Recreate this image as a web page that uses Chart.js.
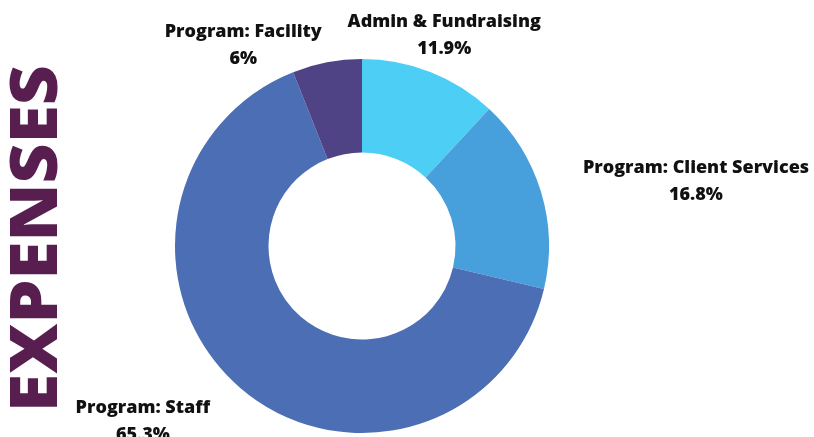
<!DOCTYPE html>
<html>
<head>
<meta charset="utf-8">
<script src="https://cdn.jsdelivr.net/npm/chart.js@4"></script>
<style>
  html, body { margin: 0; padding: 0; background: #fff; }
  #wrap { position: relative; width: 814px; height: 437px; }
</style>
</head>
<body>
<div id="wrap"><canvas id="expenses-chart" width="814" height="437"></canvas></div>
<script>
// Expenses breakdown (percent of total)
const categories = ["Admin & Fundraising", "Program: Client Services", "Program: Staff", "Program: Facility"];
const shares = [11.9, 16.8, 65.3, 6];
const shareLabels = ["11.9%", "16.8%", "65.3%", "6%"];
const sliceColors = ["#4DCEF5", "#47A0DC", "#4C6EB4", "#4F4386"];

// label anchors, in units of outer radius from the doughnut centre (baseline of first line)
const labelAnchors = [[0.44, -1.17], [1.786, -0.389], [-1.172, 0.895], [-0.635, -1.116]];

const sideTitle = {
  id: "sideTitle",
  afterDraw(chart) {
    const ctx = chart.ctx;
    const text = "EXPENSES";
    ctx.save();
    ctx.font = "800 66px 'Open Sans'";
    const w = ctx.measureText(text).width;
    ctx.translate(57, 412);
    ctx.rotate(-Math.PI / 2);
    ctx.scale(347 / w, 1);
    ctx.fillStyle = "#571E4F";
    ctx.textAlign = "left";
    ctx.textBaseline = "alphabetic";
    ctx.fillText(text, 0, 0);
    ctx.restore();
  }
};

const sliceLabels = {
  id: "sliceLabels",
  afterDraw(chart) {
    const ctx = chart.ctx;
    const arc = chart.getDatasetMeta(0).data[0];
    const cx = arc.x, cy = arc.y, r = arc.outerRadius;
    ctx.save();
    ctx.fillStyle = "#111111";
    ctx.textAlign = "center";
    ctx.textBaseline = "alphabetic";
    ctx.font = "800 18px 'Open Sans'";
    categories.forEach((name, i) => {
      const x = cx + labelAnchors[i][0] * r;
      const y = cy + labelAnchors[i][1] * r;
      ctx.fillText(name, x, y);
      ctx.fillText(shareLabels[i], x, y + 26.5);
    });
    ctx.restore();
  }
};

new Chart(document.getElementById("expenses-chart"), {
  type: "doughnut",
  data: {
    labels: categories,
    datasets: [{
      data: shares,
      backgroundColor: sliceColors,
      borderWidth: 0,
      hoverOffset: 0
    }]
  },
  options: {
    responsive: false,
    animation: false,
    cutout: "50%",
    layout: { padding: { top: 59, left: 175, right: 265, bottom: 4 } },
    plugins: {
      legend: { display: false },
      tooltip: { enabled: false }
    }
  },
  plugins: [sideTitle, sliceLabels]
});
</script>
</body>
</html>
